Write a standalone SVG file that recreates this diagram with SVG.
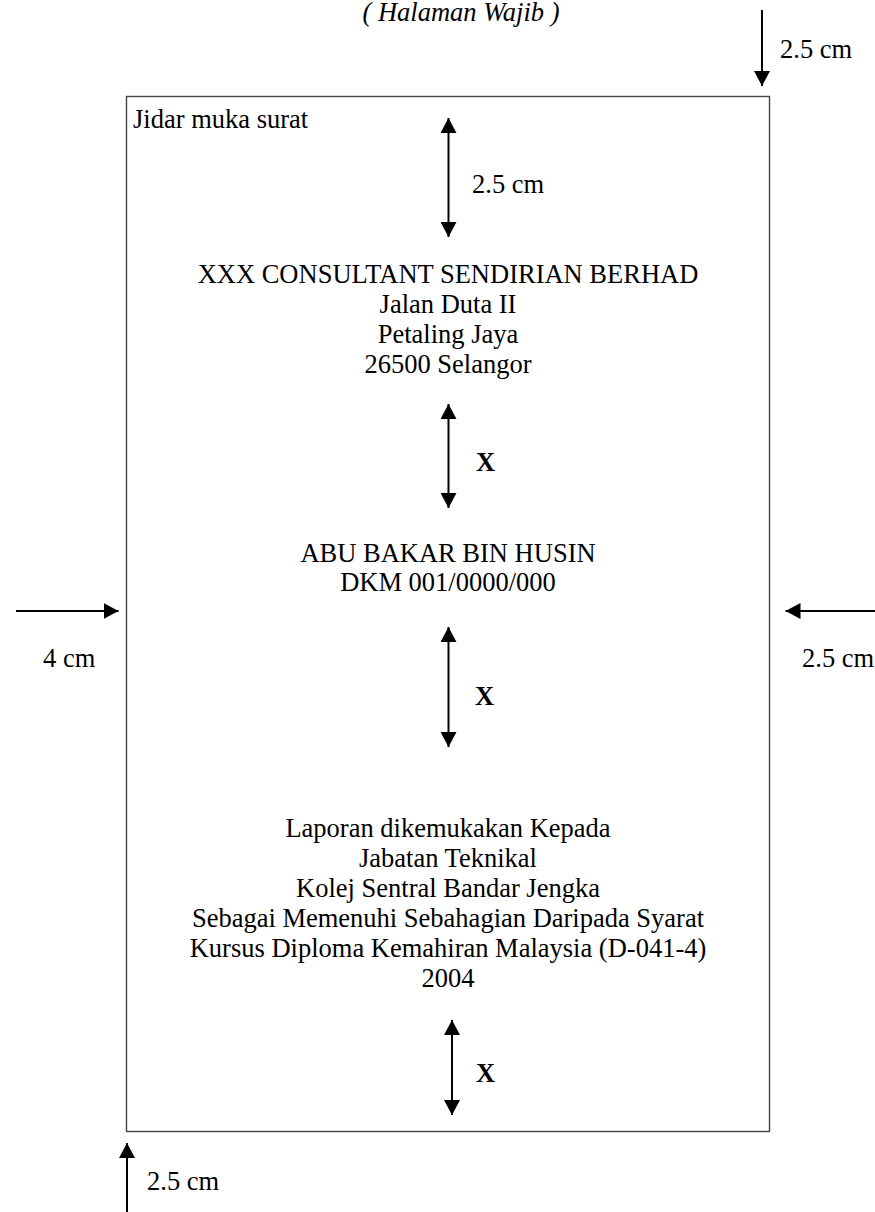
<svg xmlns="http://www.w3.org/2000/svg" width="875" height="1212" viewBox="0 0 875 1212">
  <style>
    .c { text-anchor: middle; }
    .i { font-style: italic; }
    .b { font-weight: bold; }
    .arr { stroke: #000; stroke-width: 2; fill: none; }
    .page { fill: #fff; stroke: #444; stroke-width: 1.4; }
  </style>
  <defs>
    <marker id="ah" viewBox="0 0 15 16" refX="15" refY="8" markerWidth="15" markerHeight="16" markerUnits="userSpaceOnUse" orient="auto-start-reverse">
      <path d="M0,0 L15,8 L0,16 z" fill="#000"/>
    </marker>
  </defs>
  <rect width="875" height="1212" fill="#fff"/>

  <g id="page">
    <rect class="page" x="126.5" y="96.5" width="643" height="1035"/>
  </g>

  <g font-family="Liberation Serif, serif" font-size="26.5" fill="#000">
    <g id="title">
      <text class="i c" x="461" y="21">( Halaman Wajib )</text>
    </g>

    <g id="margin-label">
      <text x="133" y="128">Jidar muka surat</text>
    </g>

    <g id="company">
      <text class="c" x="448" y="283">XXX CONSULTANT SENDIRIAN BERHAD</text>
      <text class="c" x="448" y="313">Jalan Duta II</text>
      <text class="c" x="448" y="343">Petaling Jaya</text>
      <text class="c" x="448" y="373">26500 Selangor</text>
    </g>

    <g id="student">
      <text class="c" x="448" y="562">ABU BAKAR BIN HUSIN</text>
      <text class="c" x="448" y="591">DKM 001/0000/000</text>
    </g>

    <g id="report">
      <text class="c" x="448" y="837">Laporan dikemukakan Kepada</text>
      <text class="c" x="448" y="867">Jabatan Teknikal</text>
      <text class="c" x="448" y="897">Kolej Sentral Bandar Jengka</text>
      <text class="c" x="448" y="927">Sebagai Memenuhi Sebahagian Daripada Syarat</text>
      <text class="c" x="448" y="957">Kursus Diploma Kemahiran Malaysia (D-041-4)</text>
      <text class="c" x="448" y="987">2004</text>
    </g>

    <g id="labels">
      <text x="780" y="58">2.5 cm</text>
      <text x="472" y="193">2.5 cm</text>
      <text class="b" x="476" y="471">X</text>
      <text class="b" x="475" y="705">X</text>
      <text class="b" x="476" y="1082">X</text>
      <text x="43" y="667">4 cm</text>
      <text x="802" y="667">2.5 cm</text>
      <text x="147" y="1190">2.5 cm</text>
    </g>
  </g>

  <g id="connectors">
    <line class="arr" x1="762" y1="10" x2="762" y2="86" marker-end="url(#ah)"/>
    <line class="arr" x1="448.5" y1="118" x2="448.5" y2="237" marker-start="url(#ah)" marker-end="url(#ah)"/>
    <line class="arr" x1="448.5" y1="404" x2="448.5" y2="508" marker-start="url(#ah)" marker-end="url(#ah)"/>
    <line class="arr" x1="448.5" y1="627" x2="448.5" y2="747" marker-start="url(#ah)" marker-end="url(#ah)"/>
    <line class="arr" x1="452" y1="1020" x2="452" y2="1115" marker-start="url(#ah)" marker-end="url(#ah)"/>
    <line class="arr" x1="16" y1="611" x2="118.5" y2="611" marker-end="url(#ah)"/>
    <line class="arr" x1="875" y1="611" x2="785.5" y2="611" marker-end="url(#ah)"/>
    <line class="arr" x1="127" y1="1212" x2="127" y2="1143" marker-end="url(#ah)"/>
  </g>
</svg>
